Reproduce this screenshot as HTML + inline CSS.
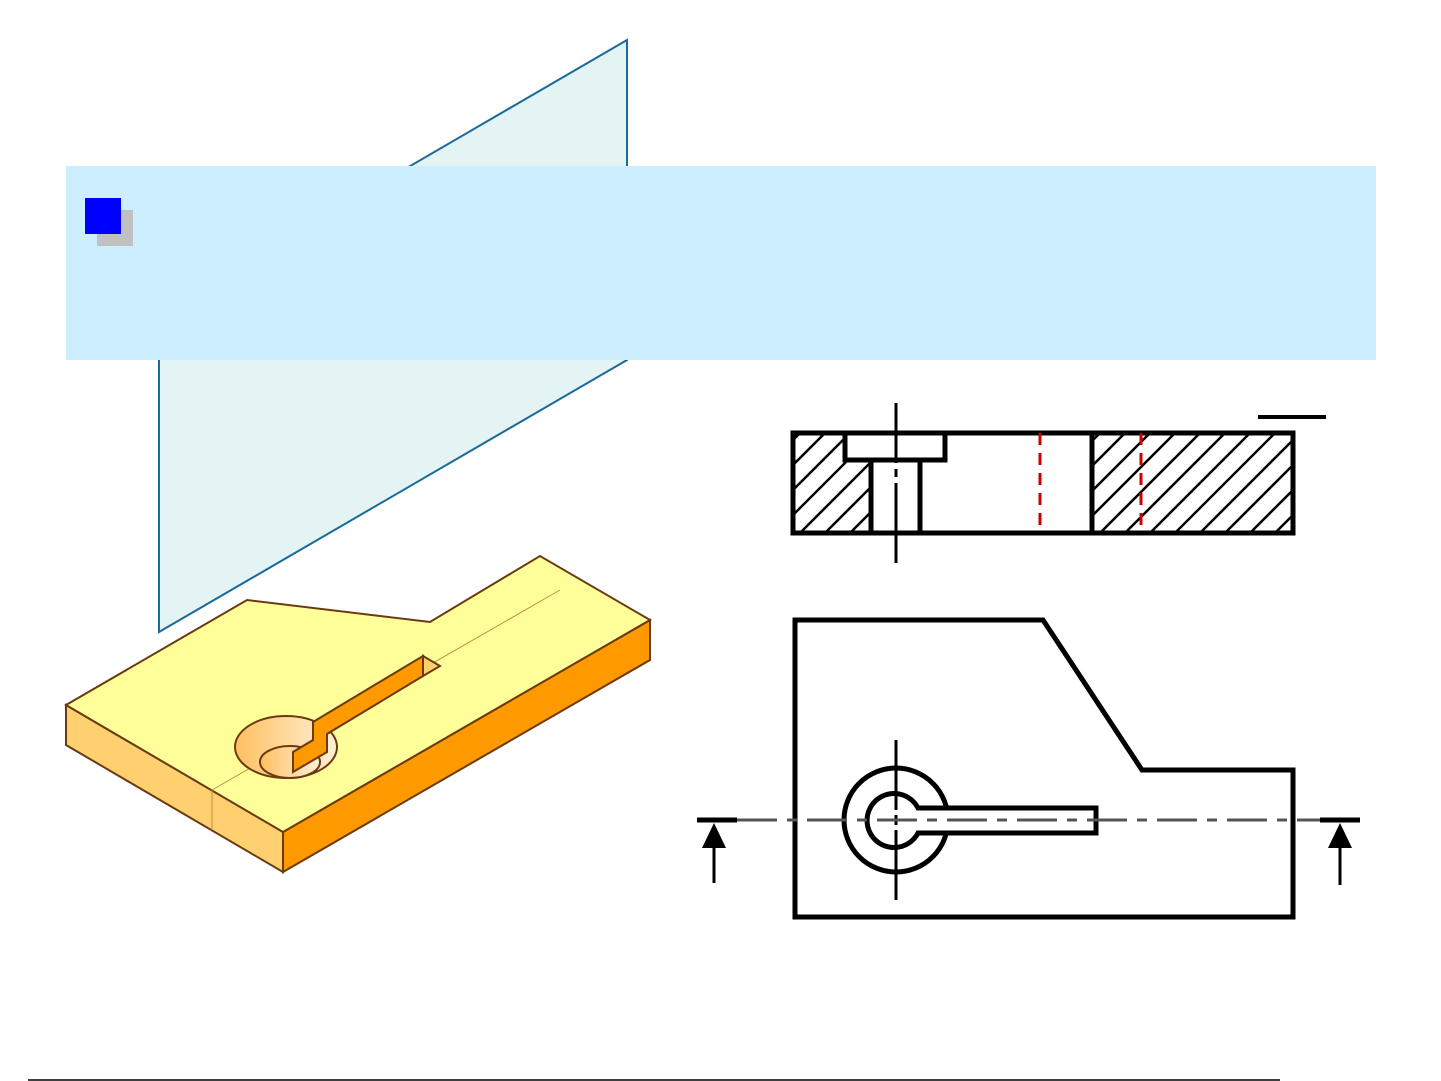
<!DOCTYPE html>
<html><head><meta charset="utf-8"><style>html,body{margin:0;padding:0;background:#fff}svg{display:block}</style></head>
<body>
<svg width="1441" height="1081" viewBox="0 0 1441 1081" xmlns="http://www.w3.org/2000/svg">
<defs>
<pattern id="h" patternUnits="userSpaceOnUse" width="25" height="25" patternTransform="translate(0,8)">
<line x1="0" y1="25" x2="25" y2="0" stroke="#000" stroke-width="2.5"/>
<line x1="-5" y1="5" x2="5" y2="-5" stroke="#000" stroke-width="2.5"/>
<line x1="20" y1="30" x2="30" y2="20" stroke="#000" stroke-width="2.5"/>
</pattern>
<linearGradient id="g" x1="0" x2="1"><stop offset="0" stop-color="#ffc060"/><stop offset="1" stop-color="#fff0d8"/></linearGradient>
</defs>
<polygon points="627,40 627,360 159,632 159,312" fill="#e4f4f4" stroke="#1a6a9a" stroke-width="2"/>
<polygon points="66,705 283,832 283,872 66,745" fill="#ffd070" stroke="#6b3a10" stroke-width="2"/>
<polygon points="283,832 650,620 650,660 283,872" fill="#ff9900" stroke="#6b3a10" stroke-width="2"/>
<polygon points="66,705 247,600 430,622 540,556 650,620 283,832" fill="#ffff99" stroke="#6b3a10" stroke-width="2"/>
<line x1="212" y1="790" x2="212" y2="830" stroke="#c09040" stroke-width="1"/>
<line x1="212" y1="790" x2="560" y2="590" stroke="#c09040" stroke-width="1"/>
<ellipse cx="286" cy="747" rx="51" ry="31" fill="url(#g)" stroke="#6b3a10" stroke-width="2"/>
<ellipse cx="290" cy="762" rx="30" ry="16" fill="url(#g)" stroke="#6b3a10" stroke-width="2"/>
<polygon points="313,722 423,656 423,676 327,734 327,752 293,772 293,752 313,740" fill="#ff9900" stroke="#6b3a10" stroke-width="2"/>
<polygon points="423,656 440,666 423,676" fill="#ffd070" stroke="#6b3a10" stroke-width="2"/>
<rect x="66" y="166" width="1310" height="194" fill="#cdeefe"/>
<rect x="97" y="210" width="36" height="36" fill="#c0c0c0"/>
<rect x="85" y="198" width="36" height="36" fill="#0000ff"/>
<rect x="795" y="435" width="76" height="96" fill="url(#h)"/>
<rect x="1092" y="435" width="199" height="96" fill="url(#h)"/>
<rect x="845" y="435" width="100" height="25" fill="#fff"/>
<g fill="none" stroke="#000" stroke-width="5">
<rect x="793" y="433" width="500" height="100"/>
<polyline points="845,433 845,460 945,460 945,433"/>
<line x1="871" y1="460" x2="871" y2="533"/>
<line x1="920" y1="460" x2="920" y2="533"/>
<line x1="1092" y1="433" x2="1092" y2="533"/>
</g>
<line x1="896" y1="403" x2="896" y2="563" stroke="#000" stroke-width="3" stroke-dasharray="60,6,8,6,80"/>
<line x1="1040" y1="433" x2="1040" y2="533" stroke="#cc0000" stroke-width="3" stroke-dasharray="12,8"/>
<line x1="1141" y1="433" x2="1141" y2="533" stroke="#cc0000" stroke-width="3" stroke-dasharray="12,8"/>
<line x1="1258" y1="417" x2="1326" y2="417" stroke="#000" stroke-width="4"/>
<polygon points="795,620 1043,620 1142,770 1293,770 1293,917 795,917" fill="none" stroke="#000" stroke-width="5"/>
<circle cx="896" cy="820" r="52" fill="none" stroke="#000" stroke-width="5"/>
<path d="M918,808 A27,27 0 1 0 918,833 L1096,833 L1096,808 Z" fill="#fff" stroke="#000" stroke-width="5"/>
<line x1="896" y1="740" x2="896" y2="900" stroke="#000" stroke-width="3" stroke-dasharray="70,5,10,5,80"/>
<line x1="737" y1="820" x2="1320" y2="820" stroke="#555" stroke-width="3" stroke-dasharray="40,10,10,10"/>
<line x1="697" y1="820" x2="737" y2="820" stroke="#000" stroke-width="5"/>
<line x1="1320" y1="820" x2="1360" y2="820" stroke="#000" stroke-width="5"/>
<line x1="714" y1="883" x2="714" y2="848" stroke="#000" stroke-width="3"/>
<polygon points="714,823 702,848 726,848"/>
<line x1="1340" y1="885" x2="1340" y2="848" stroke="#000" stroke-width="3"/>
<polygon points="1340,823 1328,848 1352,848"/>
<line x1="28" y1="1080" x2="1280" y2="1080" stroke="#000" stroke-width="1.5"/>
</svg>
</body></html>
